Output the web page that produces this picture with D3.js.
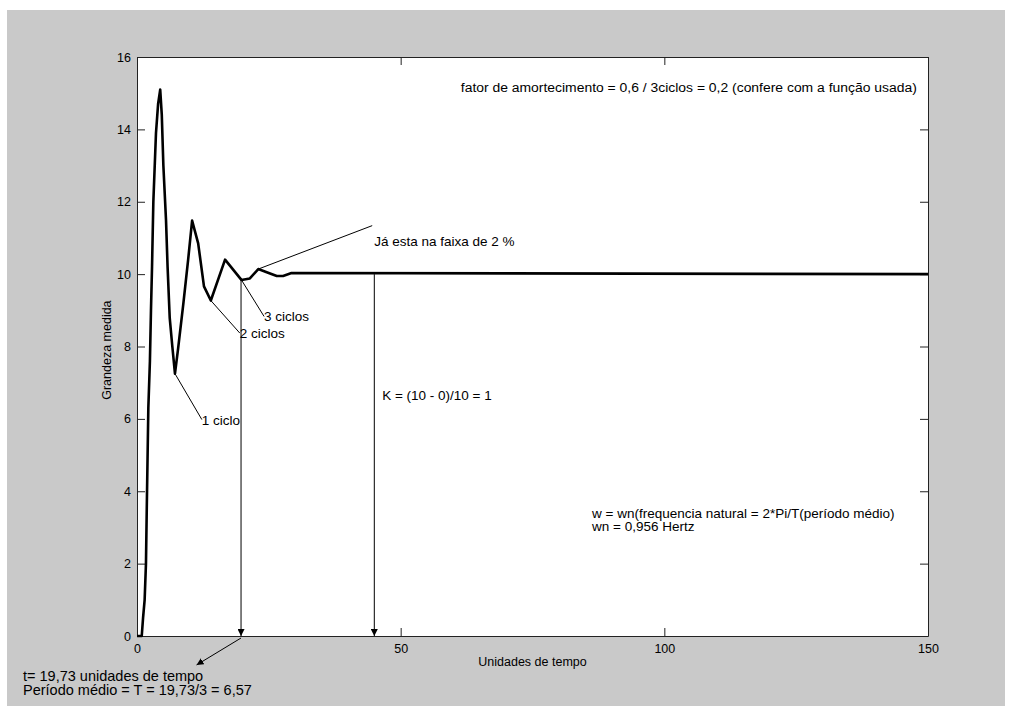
<!DOCTYPE html>
<html>
<head>
<meta charset="utf-8">
<script src="https://cdn.jsdelivr.net/npm/d3@7"></script>
<style>
  body { margin: 0; background: #fff; }
  svg text { font-family: "Liberation Sans", Arial, sans-serif; fill: #000; }
</style>
</head>
<body>
<div id="wrapper"></div>
<script>
// step response (time, value)
const times  = [0, 0.9, 1.15, 1.45, 1.7, 1.85, 2.0, 2.15, 2.45, 2.65, 2.85, 3.1, 3.6, 4.0, 4.4, 4.7, 5.0, 5.5, 5.8, 6.2, 6.7, 7.2, 7.8, 8.8, 9.7, 10.45, 11.6, 12.7, 14.0, 16.7, 19.8, 21.4, 23.0, 24.6, 26.5, 27.7, 29.3, 150]
const values = [0, 0, 0.5, 1.0, 2.0, 3.5, 4.9, 6.3, 7.6, 9.0, 10.2, 12.0, 13.9, 14.7, 15.1, 14.4, 13.0, 11.5, 10.2, 8.8, 8.0, 7.25, 7.95, 9.2, 10.4, 11.48, 10.85, 9.66, 9.27, 10.4, 9.84, 9.88, 10.14, 10.05, 9.95, 9.95, 10.03, 10]

const xTicks = [0, 50, 100, 150]
const yTicks = [0, 2, 4, 6, 8, 10, 12, 14, 16]

// labelled pointers: from curve point to label (data units)
const pointerLabels = ["1 ciclo", "2 ciclos", "3 ciclos", "Já esta na faixa de 2 %"]
const pointerFrom = [[7.2, 7.25], [14.0, 9.27], [19.8, 9.84], [23.0, 10.14]]
const pointerTo   = [[12.3, 5.98], [19.5, 8.37], [24.1, 8.83], [44.6, 11.34]]

// vertical arrows down to the time axis
const arrowTimes = [19.73, 45]
const arrowTops  = [9.84, 10]

const notes = [
  { text: "fator de amortecimento = 0,6 / 3ciclos = 0,2 (confere com a função usada)", t: 61.4, v: 15.04, len: 456, size: 12 },
  { text: "K = (10 - 0)/10 = 1", t: 46.5, v: 6.52, size: 13.5 },
  { text: "w = wn(frequencia natural = 2*Pi/T(período médio)", t: 86.3, v: 3.26, size: 13.5 },
  { text: "wn = 0,956 Hertz", t: 86.3, v: 2.9, size: 13.5 },
]
const bottomNotes = ["t= 19,73 unidades de tempo", "Período médio = T = 19,73/3 = 6,57"]

function draw() {
  const dimensions = {
    width: 1012,
    height: 713,
    margins: { top: 57, right: 84, bottom: 77, left: 137 },
  }
  dimensions.boundedWidth = dimensions.width - dimensions.margins.left - dimensions.margins.right
  dimensions.boundedHeight = dimensions.height - dimensions.margins.top - dimensions.margins.bottom

  const svg = d3.select("#wrapper").append("svg")
      .attr("width", dimensions.width)
      .attr("height", dimensions.height)

  // gray figure background
  svg.append("rect")
      .attr("x", 7).attr("y", 10)
      .attr("width", 998).attr("height", 696)
      .attr("fill", "#c9c9c9")

  const defs = svg.append("defs")
  defs.append("marker")
      .attr("id", "head")
      .attr("viewBox", "0 0 10 10")
      .attr("refX", 10).attr("refY", 5)
      .attr("markerWidth", 7).attr("markerHeight", 7)
      .attr("markerUnits", "userSpaceOnUse")
      .attr("orient", "auto")
    .append("path")
      .attr("d", "M0,0 L10,5 L0,10 Z")
      .attr("fill", "#000")

  const bounds = svg.append("g")
      .attr("transform", `translate(${dimensions.margins.left},${dimensions.margins.top})`)

  const xScale = d3.scaleLinear().domain([0, 150]).range([0, dimensions.boundedWidth])
  const yScale = d3.scaleLinear().domain([0, 16]).range([dimensions.boundedHeight, 0])

  bounds.append("rect")
      .attr("width", dimensions.boundedWidth)
      .attr("height", dimensions.boundedHeight)
      .attr("fill", "#fff")

  // axes, ticks pointing inward on all four sides
  const xAxis = bounds.append("g")
      .attr("transform", `translate(0,${dimensions.boundedHeight})`)
      .call(d3.axisBottom(xScale).tickValues(xTicks).tickSizeInner(-8).tickSizeOuter(0).tickPadding(6))
  const yAxis = bounds.append("g")
      .call(d3.axisLeft(yScale).tickValues(yTicks).tickSizeInner(-8).tickSizeOuter(0).tickPadding(6))
  bounds.append("g")
      .call(d3.axisTop(xScale).tickValues(xTicks).tickSizeInner(-8).tickSizeOuter(0).tickFormat(""))
  bounds.append("g")
      .attr("transform", `translate(${dimensions.boundedWidth},0)`)
      .call(d3.axisRight(yScale).tickValues(yTicks).tickSizeInner(-8).tickSizeOuter(0).tickFormat(""))

  bounds.selectAll(".domain").attr("stroke", "#222")
  bounds.selectAll(".tick line").attr("stroke", "#222")
  bounds.selectAll(".tick text").style("font-size", "12.5px")
      .attr("font-family", "Liberation Sans, Arial, sans-serif")
  xAxis.selectAll(".tick text").attr("dy", "0.9em")

  bounds.append("text")
      .attr("x", xScale(75))
      .attr("y", dimensions.boundedHeight + 30)
      .attr("text-anchor", "middle")
      .style("font-size", "12.5px")
      .text("Unidades de tempo")

  bounds.append("text")
      .attr("transform", `translate(-26,${yScale(7.9)}) rotate(-90)`)
      .attr("text-anchor", "middle")
      .style("font-size", "12.5px")
      .text("Grandeza medida")

  // curve
  const data = times.map((t, i) => [t, values[i]])
  const lineGenerator = d3.line()
      .x(d => xScale(d[0]))
      .y(d => yScale(d[1]))
  bounds.append("path")
      .attr("d", lineGenerator(data))
      .attr("fill", "none")
      .attr("stroke", "#000")
      .attr("stroke-width", 2.6)
      .attr("stroke-linejoin", "round")

  // pointer lines and labels
  pointerLabels.forEach((label, i) => {
    const [t0, v0] = pointerFrom[i]
    const [t1, v1] = pointerTo[i]
    bounds.append("line")
        .attr("x1", xScale(t0)).attr("y1", yScale(v0))
        .attr("x2", xScale(t1)).attr("y2", yScale(v1))
        .attr("stroke", "#000").attr("stroke-width", 1)
    const below = i < 3
    bounds.append("text")
        .attr("x", xScale(t1) + (i === 3 ? 2 : 0))
        .attr("y", yScale(v1) + (below ? 5 : 20))
        .style("font-size", "13.5px")
        .text(label)
  })

  // vertical arrows
  arrowTimes.forEach((t, i) => {
    bounds.append("line")
        .attr("x1", xScale(t)).attr("y1", yScale(arrowTops[i]))
        .attr("x2", xScale(t)).attr("y2", yScale(0))
        .attr("stroke", "#000").attr("stroke-width", 1)
        .attr("marker-end", "url(#head)")
  })

  // pointer from the first arrow foot to the note under the axis
  bounds.append("line")
      .attr("x1", xScale(arrowTimes[0])).attr("y1", yScale(0) + 2)
      .attr("x2", xScale(11.3)).attr("y2", yScale(-0.8))
      .attr("stroke", "#000").attr("stroke-width", 1)
      .attr("marker-end", "url(#head)")

  notes.forEach(n => {
    const txt = bounds.append("text")
        .attr("x", xScale(n.t))
        .attr("y", yScale(n.v))
        .style("font-size", n.size + "px")
        .text(n.text)
    if (n.len) txt.attr("textLength", n.len).attr("lengthAdjust", "spacingAndGlyphs")
  })

  bottomNotes.forEach((s, i) => {
    svg.append("text")
        .attr("x", 23)
        .attr("y", 681 + i * 14)
        .style("font-size", "14.5px")
        .text(s)
  })
}

draw()
</script>
</body>
</html>
